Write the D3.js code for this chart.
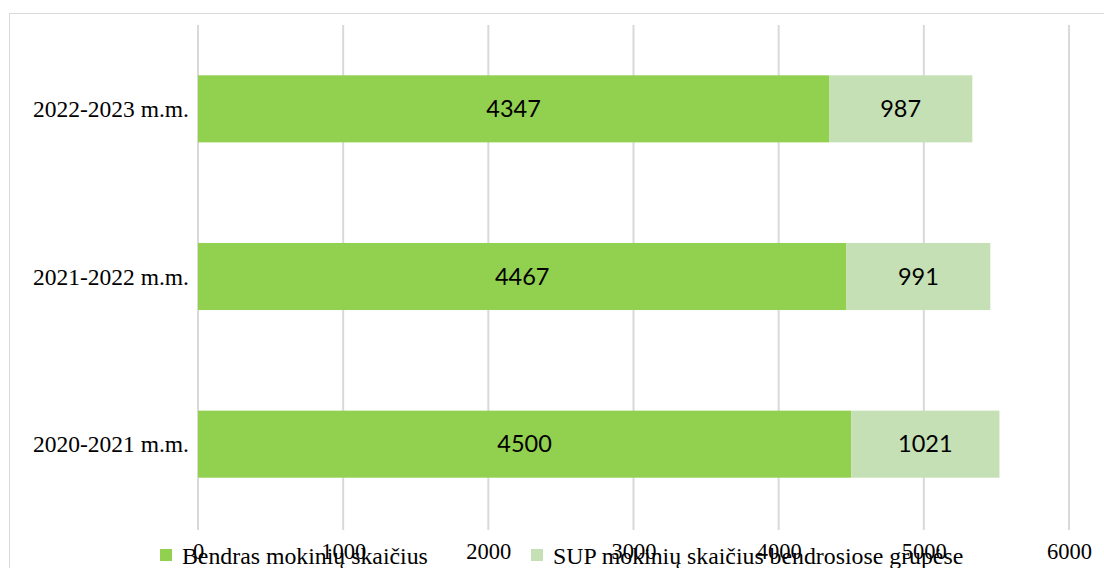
<!DOCTYPE html>
<html>
<head>
<meta charset="utf-8">
<script src="https://cdn.jsdelivr.net/npm/d3@7"></script>
<style>
  body { margin: 0; background: white; }
</style>
</head>
<body>
<div id="chart"></div>
<script>
const years = ["2022-2023 m.m.", "2021-2022 m.m.", "2020-2021 m.m."];
const bendras = [4347, 4467, 4500];
const sup = [987, 991, 1021];
const seriesNames = ["Bendras mokinių skaičius", "SUP mokinių skaičius bendrosiose grupėse"];
const seriesColors = ["#92D050", "#C5E0B4"];
const xTicks = [0, 1000, 2000, 3000, 4000, 5000, 6000];

const width = 1104, height = 568;
const margin = {top: 25, right: 35, bottom: 40, left: 198};

const svg = d3.select("#chart").append("svg")
    .attr("width", width)
    .attr("height", height);

// cadre du graphique
svg.append("rect")
    .attr("x", 9.5).attr("y", 13.5)
    .attr("width", width).attr("height", height)
    .attr("fill", "white").attr("stroke", "#d9d9d9");

const x = d3.scaleLinear()
    .domain([0, 6000])
    .range([margin.left, width - margin.right]);

const y = d3.scaleBand()
    .domain(years)
    .range([margin.top, height - margin.bottom])
    .paddingInner(0.6)
    .paddingOuter(0.3);

// grille verticale
svg.append("g").selectAll("line")
    .data(xTicks).join("line")
    .attr("x1", d => x(d)).attr("x2", d => x(d))
    .attr("y1", margin.top).attr("y2", height - margin.bottom + 2)
    .attr("stroke", "#d9d9d9").attr("stroke-width", 2);

const rows = years.map((yr, i) => ({year: yr, a: bendras[i], b: sup[i]}));

// Bendras
svg.append("g").selectAll("rect")
    .data(rows).join("rect")
    .attr("x", x(0))
    .attr("y", d => y(d.year))
    .attr("width", d => x(d.a) - x(0))
    .attr("height", y.bandwidth())
    .attr("fill", seriesColors[0]);

// SUP
svg.append("g").selectAll("rect")
    .data(rows).join("rect")
    .attr("x", d => x(d.a))
    .attr("y", d => y(d.year))
    .attr("width", d => x(d.a + d.b) - x(d.a))
    .attr("height", y.bandwidth())
    .attr("fill", seriesColors[1]);

const labelStyle = sel => sel
    .attr("text-anchor", "middle")
    .attr("dy", "0.35em")
    .style("font-family", "Lato, 'Open Sans', sans-serif")
    .style("font-size", "23.5px")
    .style("fill", "#000");

svg.append("g").selectAll("text")
    .data(rows).join("text")
    .attr("x", d => (x(0) + x(d.a)) / 2)
    .attr("y", d => y(d.year) + y.bandwidth() / 2)
    .text(d => d.a)
    .call(labelStyle);

svg.append("g").selectAll("text")
    .data(rows).join("text")
    .attr("x", d => (x(d.a) + x(d.a + d.b)) / 2)
    .attr("y", d => y(d.year) + y.bandwidth() / 2)
    .text(d => d.b)
    .call(labelStyle);

// étiquettes des catégories
svg.append("g").selectAll("text")
    .data(years).join("text")
    .attr("x", margin.left - 9)
    .attr("y", d => y(d) + y.bandwidth() / 2)
    .attr("dy", "0.35em")
    .attr("text-anchor", "end")
    .style("font-family", "'Liberation Serif', serif")
    .style("font-size", "23.5px")
    .text(d => d);

// axe X
const xAxis = svg.append("g")
    .attr("transform", `translate(0,${height - margin.bottom})`)
    .call(d3.axisBottom(x).tickValues(xTicks).tickSize(0).tickPadding(15).tickFormat(d3.format("d")));
xAxis.select(".domain").remove();
xAxis.selectAll("text")
    .style("font-family", "'Liberation Serif', serif")
    .style("font-size", "22.5px")
    .style("fill", "#000");

// légende
const legendX = [160, 531];
const legend = svg.append("g").selectAll("g")
    .data(seriesNames).join("g")
    .attr("transform", (d, i) => `translate(${legendX[i]},549)`);
legend.append("rect")
    .attr("width", 12).attr("height", 12)
    .attr("fill", (d, i) => seriesColors[i]);
legend.append("text")
    .attr("x", 22).attr("y", 15)
    .style("font-family", "'Liberation Serif', serif")
    .style("font-size", "23.8px")
    .text(d => d);
</script>
</body>
</html>
